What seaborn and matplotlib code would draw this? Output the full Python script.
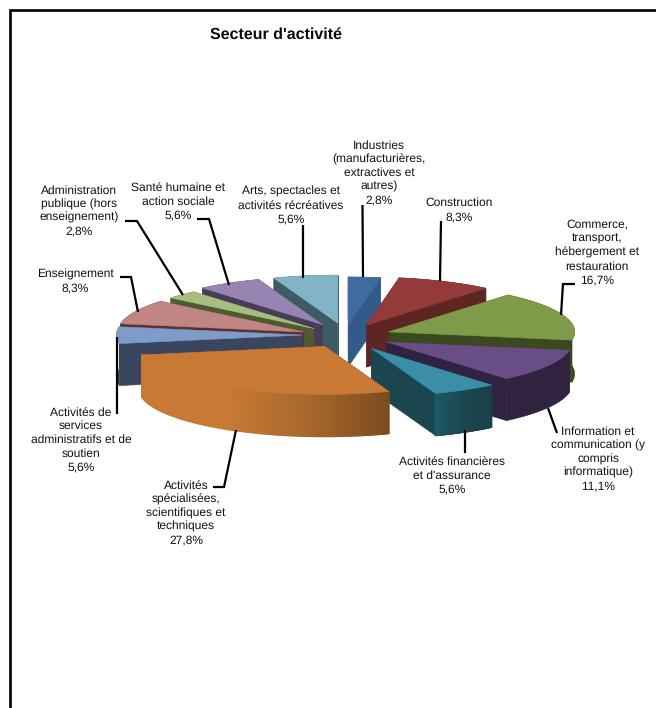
import numpy as np
import matplotlib
matplotlib.use("Agg")
import matplotlib.pyplot as plt
from matplotlib.colors import LinearSegmentedColormap
from matplotlib.collections import PolyCollection
import seaborn as sns

# ---- data ----
sectors = ["Industries\n(manufacturières,\nextractives et\nautres)", "Construction",
           "Commerce,\ntransport,\nhébergement et\nrestauration",
           "Information et\ncommunication (y\ncompris\ninformatique)",
           "Activités financières\net d'assurance",
           "Activités\nspécialisées,\nscientifiques et\ntechniques",
           "Activités de\nservices\nadministratifs et de\nsoutien",
           "Enseignement", "Administration\npublique (hors\nenseignement)",
           "Santé humaine et\naction sociale", "Arts, spectacles et\nactivités récréatives"]
shares = [2.8, 8.3, 16.7, 11.1, 5.6, 27.8, 5.6, 8.3, 2.8, 5.6, 5.6]
title = "Secteur d'activité"

# ---- style ----
top_colors = ["#3f6ca0", "#953a3a", "#7f9a48", "#684e84", "#3a8ea8", "#c87a35",
              "#7f9bc8", "#c08683", "#a8bd80", "#9784b2", "#82b4c7"]
wall_colors = [["#345a88"], ["#5e2623"], ["#3a4a1e"], ["#30233f"],
               ["#1d5866", "#1b4650", "#1b3f47"],
               ["#c87a35", "#c87a35", "#a9682c", "#7a4c20"],
               ["#3a465f"], ["#5c3231"], ["#4d5a32"], ["#483d58"], ["#3e5a63"]]
side_colors = ["#345a88", "#5e2623", "#3a4a1e", "#30233f", "#1b4650", "#7a4c20",
               "#3a465f", "#5c3231", "#4d5a32", "#483d58", "#3e5a63"]
nudges = [(-1, 2), (2, 1), (0, 1), (1, 1), (3, 3), (3, 1), (4, 0), (1, 2), (2, 2), (1, 0), (1, 0)]
CX, CY, RX, RY, DEPTH, EXPLODE = 345, 335, 186, 48, 42, 0.25

label_pos = [(379, 173), (459, 210), (597, 252.5), (598, 459), (452, 476), (186, 513),
             (81, 440), (75, 281.5), (79, 211), (178, 202), (291, 205.5)]
leaders = [[(362.5, 205), (363, 277)],
           [(441, 221), (440, 281)],
           [(575, 284), (563, 284), (561, 315)],
           [(548, 408), (557, 433)],
           [(465, 430), (465, 453)],
           [(236, 430), (224, 487), (213, 487)],
           [(117, 337), (117, 414)],
           [(120, 277), (131, 277), (138, 312)],
           [(125, 221), (137, 221), (183, 295)],
           [(197, 219), (209, 219), (229, 285)],
           [(303, 225), (303, 278)]]

sns.set_theme(style="white")
plt.rcParams["font.family"] = ["Liberation Sans", "DejaVu Sans"]
plt.rcParams["text.hinting"] = "no_hinting"
plt.rcParams["text.hinting_factor"] = 1

fig = plt.figure(figsize=(6.56, 7.08), dpi=100, facecolor="white")
ax = fig.add_axes([0, 0, 1, 1])
ax.set_xlim(0, 656)
ax.set_ylim(708, 0)
ax.axis("off")

ax.plot([10, 10, 656], [708, 10, 10], color="black", lw=1.9, solid_joinstyle="miter", zorder=1)

arr = np.array(shares, dtype=float)
edges = np.concatenate([[0], np.cumsum(arr) / arr.sum() * 2 * np.pi])
mids = (edges[:-1] + edges[1:]) / 2


def project(theta, r=1.0):
    return RX * r * np.sin(theta), -RY * r * np.cos(theta)


order = np.argsort(-np.cos(mids))
z = 2
for i in order:
    a0, a1 = edges[i], edges[i + 1]
    dx, dy = project(mids[i], EXPLODE)
    tip = np.array([CX + dx + nudges[i][0], CY + dy + nudges[i][1]])
    th = np.linspace(a0, a1, 120)
    ax_, ay_ = project(th)
    arc = np.column_stack([tip[0] + ax_, tip[1] + ay_])
    down = np.array([0, DEPTH])
    top_poly = np.vstack([tip, arc])

    # the two radial sides
    for q in (arc[0], arc[-1]):
        side = np.array([tip, q, q + down, tip + down])
        ax.fill(side[:, 0], side[:, 1], color=side_colors[i], lw=0.4, zorder=z)
    z += 1
    # the outer rim, one colour or a left-to-right gradient
    stops = wall_colors[i]
    if len(stops) == 1:
        rim = np.vstack([arc, (arc + down)[::-1]])
        ax.fill(rim[:, 0], rim[:, 1], color=stops[0], lw=0.4, zorder=z)
    else:
        cmap = LinearSegmentedColormap.from_list("w", stops)
        xmin, xmax = arc[:, 0].min(), arc[:, 0].max()
        quads, cols = [], []
        for p, q in zip(arc[:-1], arc[1:]):
            quads.append([p, q, q + down, p + down])
            cols.append(cmap(((p[0] + q[0]) / 2 - xmin) / (xmax - xmin)))
        ax.add_collection(PolyCollection(quads, facecolors=cols, edgecolors=cols,
                                         linewidths=1.2, zorder=z))
    z += 1
    ax.fill(top_poly[:, 0], top_poly[:, 1], color=top_colors[i], lw=0.4, zorder=z)
    z += 1

for pts in leaders:
    xs, ys = zip(*pts)
    ax.plot(xs, ys, color="black", lw=1.6, solid_capstyle="butt", solid_joinstyle="miter", zorder=100)

for name, val, (x, y) in zip(sectors, shares, label_pos):
    txt = f"{name}\n{val:.1f}%".replace(".", ",")
    ax.text(x, y, txt, ha="center", va="center", fontsize=8.85, color="#111111",
            linespacing=1.3, zorder=101)

ax.text(276, 35, title, ha="center", va="center", fontsize=11.6, fontweight="bold", color="#0a0a0a")

fig.savefig("out.png", dpi=100)
